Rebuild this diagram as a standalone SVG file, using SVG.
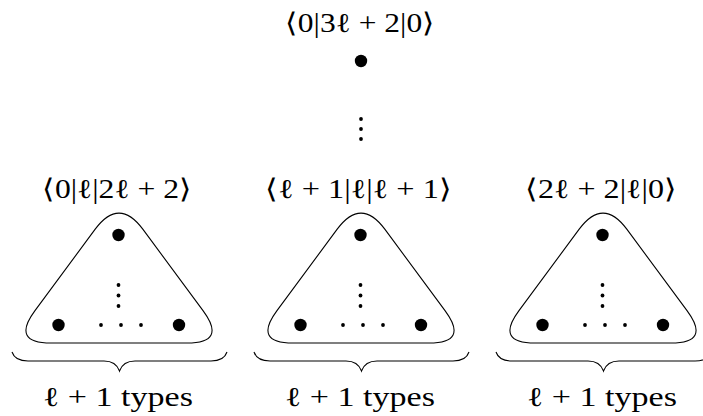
<svg xmlns="http://www.w3.org/2000/svg" xmlns:xlink="http://www.w3.org/1999/xlink" width="703" height="416" viewBox="0 0 703 416">
<style>
.outline{fill:none;stroke:#000;stroke-width:1.1}
.brace{fill:none;stroke:#000;stroke-width:1.1}
.big{fill:#000}
.sm{fill:#000}
</style>
<defs>
<g id="tri">
<path class="outline" d="M95.2,229.2 L34.8,310.8 Q11,343 51,343 L187,343 Q227,343 203.2,310.8 L142.8,229.2 Q119,197 95.2,229.2 Z"/>
<circle class="big" cx="118.5" cy="235" r="6.2"/>
<circle class="big" cx="58.5" cy="325" r="6.2"/>
<circle class="big" cx="179" cy="325" r="6.2"/>
<circle class="sm" cx="118.5" cy="285" r="1.9"/>
<circle class="sm" cx="118.5" cy="295.5" r="1.9"/>
<circle class="sm" cx="118.5" cy="306" r="1.9"/>
<circle class="sm" cx="101" cy="325" r="1.9"/>
<circle class="sm" cx="121" cy="325" r="1.9"/>
<circle class="sm" cx="141" cy="325" r="1.9"/>
<path class="brace" d="M12,352 C14,358 20,361 28,361 L104,361 C112,361 117,364 119.5,371 C122,364 127,361 135,361 L211,361 C219,361 225,358 227,352"/>
<text x="118" y="406" font-family="'Liberation Serif', serif" font-size="27" text-anchor="middle" textLength="150" lengthAdjust="spacingAndGlyphs">ℓ + 1 types</text>
</g>
</defs>
<g id="top">
<text x="360" y="32" font-family="'Liberation Serif', serif" font-size="27" text-anchor="middle" textLength="150" lengthAdjust="spacingAndGlyphs">⟨0|3ℓ + 2|0⟩</text>
<circle class="big" cx="361" cy="61" r="6.2"/>
<circle class="sm" cx="361" cy="119" r="1.9"/>
<circle class="sm" cx="361" cy="129" r="1.9"/>
<circle class="sm" cx="361" cy="139" r="1.9"/>
</g>
<g id="group1">
<text x="117" y="198" font-family="'Liberation Serif', serif" font-size="27" text-anchor="middle" textLength="150" lengthAdjust="spacingAndGlyphs">⟨0|ℓ|2ℓ + 2⟩</text>
<use xlink:href="#tri"/>
</g>
<g id="group2">
<text x="358.5" y="198" font-family="'Liberation Serif', serif" font-size="27" text-anchor="middle" textLength="187" lengthAdjust="spacingAndGlyphs">⟨ℓ + 1|ℓ|ℓ + 1⟩</text>
<use xlink:href="#tri" transform="translate(242,0)"/>
</g>
<g id="group3">
<text x="601" y="198" font-family="'Liberation Serif', serif" font-size="27" text-anchor="middle" textLength="152" lengthAdjust="spacingAndGlyphs">⟨2ℓ + 2|ℓ|0⟩</text>
<use xlink:href="#tri" transform="translate(484,0)"/>
</g>
<g id="connectors"></g>
</svg>
